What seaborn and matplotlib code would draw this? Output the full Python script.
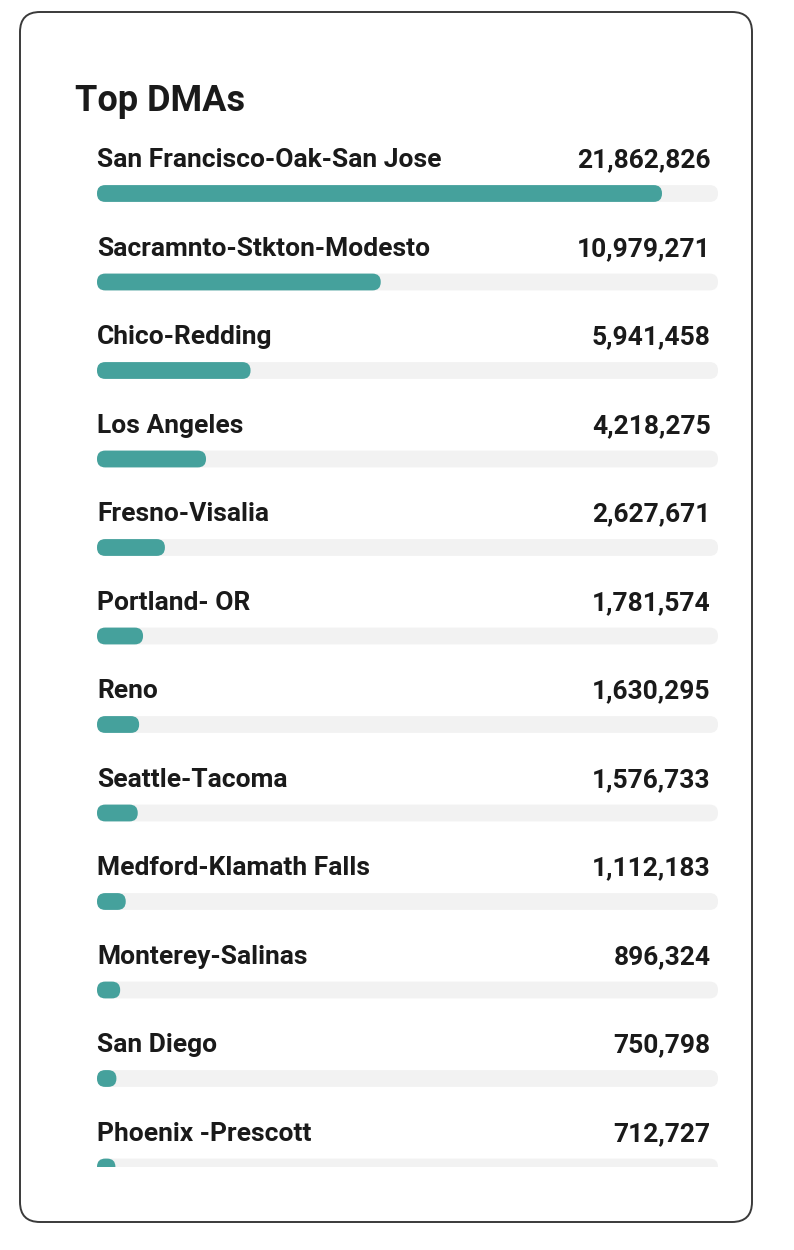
import matplotlib
matplotlib.use("Agg")
import matplotlib.pyplot as plt
import matplotlib.transforms as mtransforms
from matplotlib.patches import FancyBboxPatch
import seaborn as sns
import pandas as pd

# =========================================
# DATOS
# =========================================
dmas = [
    "San Francisco-Oak-San Jose",
    "Sacramnto-Stkton-Modesto",
    "Chico-Redding",
    "Los Angeles",
    "Fresno-Visalia",
    "Portland- OR",
    "Reno",
    "Seattle-Tacoma",
    "Medford-Klamath Falls",
    "Monterey-Salinas",
    "San Diego",
    "Phoenix -Prescott",
]
valores = [21862826, 10979271, 5941458, 4218275, 2627671, 1781574,
           1630295, 1576733, 1112183, 896324, 750798, 712727]

titulo = "Top DMAs"

# escala de la pista gris (el maximo de la barra)
escala_max = 24_030_000

color_barra = "#45a19c"
color_pista = "#f2f2f2"
color_texto = "#1a1a1a"

df = pd.DataFrame({"dma": dmas, "valor": valores})
df["pista"] = escala_max

# =========================================
# FIGURA
# =========================================
sns.set_theme(style="white")
plt.rcParams["font.family"] = ["Roboto", "DejaVu Sans"]

W, H = 794, 1250
fig = plt.figure(figsize=(W / 100, H / 100), dpi=100)

# tarjeta con borde redondeado (detras de todo)
tarjeta = FancyBboxPatch((0.20, 0.28), 7.32, 12.10,
                         boxstyle="round,pad=0,rounding_size=0.2",
                         transform=fig.dpi_scale_trans,
                         facecolor="white", edgecolor="#3a3a3a", linewidth=1.4,
                         zorder=-10)
fig.add_artist(tarjeta)

fig.text(75 / W, 1 - 101 / H, titulo, fontsize=26, fontweight="bold",
         color=color_texto, ha="left", va="center")

# ejes: x = pista (97 -> 718 px), filas cada 88.5 px
px_izq, px_der = 97, 718
px_top, px_bot = 140, 1167
fila_px = 88.5
ax = fig.add_axes([px_izq / W, 1 - px_bot / H,
                   (px_der - px_izq) / W, (px_bot - px_top) / H])
ax.set_zorder(5)

alto = 0.19
sns.barplot(data=df, x="pista", y="dma", orient="h", color=color_pista,
            width=alto, ax=ax, saturation=1)
sns.barplot(data=df, x="valor", y="dma", orient="h", color=color_barra,
            width=alto, ax=ax, saturation=1)

n = len(dmas)
ax.set_xlim(0, escala_max)
ax.set_ylim(n - 1, (n - 1) - (px_bot - px_top) / fila_px)
ax.axis("off")

# convertir barras en barras con extremos redondeados
x_por_px = escala_max / (px_der - px_izq)
y_por_px = 1 / fila_px
aspecto = y_por_px / x_por_px
radio = alto / y_por_px / 2 * x_por_px * 0.98
for i, p in enumerate(list(ax.patches)):
    r = FancyBboxPatch((p.get_x(), p.get_y()), p.get_width(), p.get_height(),
                       boxstyle=f"round,pad=0,rounding_size={radio}",
                       mutation_aspect=aspecto,
                       facecolor=p.get_facecolor(), edgecolor="none",
                       zorder=2 if i >= n else 1)
    p.set_visible(False)
    ax.add_patch(r)

# textos
trans = mtransforms.blended_transform_factory(ax.transAxes, ax.transData)
desp = 33 / fila_px
for i, (nombre, v) in enumerate(zip(dmas, valores)):
    ax.text(0, i - desp, nombre, fontsize=19, fontweight="bold",
            color=color_texto, ha="left", va="center")
    ax.text(0.988, i - desp, f"{v:,}", fontsize=19, fontweight="bold",
            color=color_texto, ha="right", va="center", transform=trans)

fig.savefig("out.png", dpi=100)
